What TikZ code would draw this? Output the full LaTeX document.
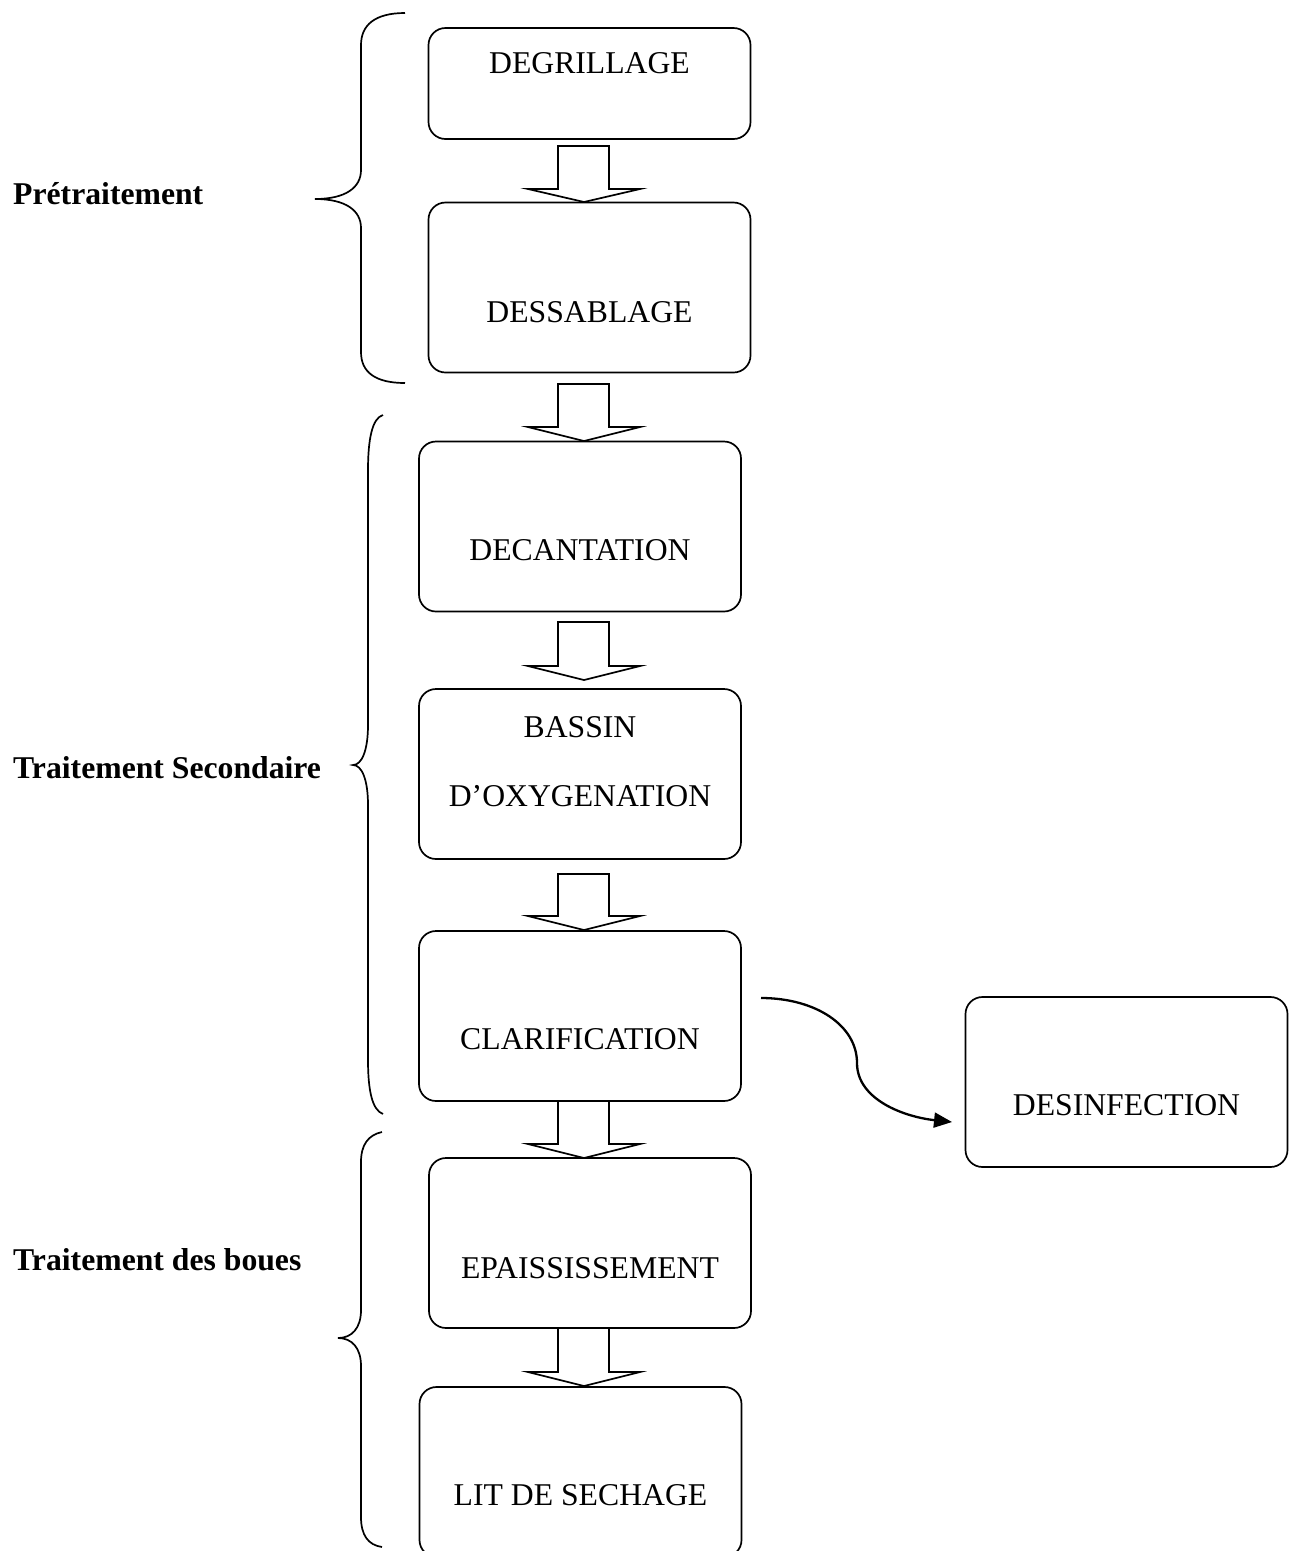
\documentclass[tikz,border=0pt]{standalone}
\usepackage{fontspec}
\setmainfont{Liberation Serif}
\usetikzlibrary{arrows.meta}
\tikzset{
  box/.style={draw, line width=1.7pt, rounded corners=17pt, minimum width=322pt, minimum height=170pt, inner sep=0pt},
  boxtxt/.style={anchor=base, inner sep=0pt, font=\fontsize{31.7}{38}\selectfont},
  sidetxt/.style={anchor=base west, inner sep=0pt, font=\fontsize{31.7}{38}\selectfont\bfseries},
  blk/.style={draw, line width=1.7pt, line join=miter, fill=white},
  brace/.style={draw, line width=1.7pt},
  flow/.style={draw, line width=2.3pt, -{Triangle[length=18pt,width=15pt]}}
}
\newcommand\blkarrow[3]{%
  \draw[blk] (558,#1) -- (609,#1) -- (609,#2) -- (640,#2) -- (584,#3) -- (528,#2) -- (558,#2) -- cycle;}
\begin{document}
\begin{tikzpicture}[x=1pt,y=-1pt]
\useasboundingbox (0,0) rectangle (1291,1551);

% boxes
\node[box, minimum height=111pt] (b1) at (589.5,83.5) {};
\node[box] (b2) at (589.5,287.5) {};
\node[box] (b3) at (580,526.5) {};
\node[box] (b4) at (580,774) {};
\node[box] (b5) at (580,1016) {};
\node[box] (b6) at (1126.5,1082) {};
\node[box] (b7) at (590,1243) {};
\node[box] (b8) at (580.5,1472) {};

% box texts
\node[boxtxt] (t1) at (589.5,73) {DEGRILLAGE};
\node[boxtxt] (t2) at (589.5,322) {DESSABLAGE};
\node[boxtxt] (t3) at (580,560) {DECANTATION};
\node[boxtxt] (t4a) at (580,737) {BASSIN};
\node[boxtxt] (t4b) at (580,806) {D’OXYGENATION};
\node[boxtxt] (t5) at (580,1049) {CLARIFICATION};
\node[boxtxt] (t6) at (1126.5,1115) {DESINFECTION};
\node[boxtxt] (t7) at (590,1278) {EPAISSISSEMENT};
\node[boxtxt] (t8) at (580.5,1505) {LIT DE SECHAGE};

% block arrows
\blkarrow{146}{189}{202}
\blkarrow{384}{427}{441}
\blkarrow{622}{666}{680}
\blkarrow{874}{916}{930}
\blkarrow{1101}{1144}{1158}
\blkarrow{1328}{1372}{1386}

% curved arrow
\coordinate (c1) at (761,998);
\coordinate (c2) at (952,1122);
\draw[flow] (c1) .. controls (815,998) and (857,1025) .. (857,1063)
   .. controls (857,1100) and (905,1117) .. (c2);

% braces
\draw[brace] (405,13) .. controls (375,13) and (361,25) .. (361,45) -- (361,170)
   .. controls (361,188) and (345,199) .. (315,199)
   .. controls (345,199) and (361,210) .. (361,228) -- (361,352)
   .. controls (361,372) and (375,383) .. (405,383);
\draw[brace] (383,415) .. controls (372,418) and (368,440) .. (368,470) -- (368,725)
   .. controls (368,750) and (362,765) .. (353,765)
   .. controls (362,765) and (368,780) .. (368,805) -- (368,1060)
   .. controls (368,1090) and (372,1110) .. (383,1114);
\draw[brace] (382,1132) .. controls (368,1135) and (361,1145) .. (361,1162) -- (361,1310)
   .. controls (361,1328) and (352,1338) .. (338,1338)
   .. controls (352,1338) and (361,1348) .. (361,1366) -- (361,1517)
   .. controls (361,1535) and (368,1545) .. (382,1547);

% side labels
\node[sidetxt] (s1) at (13,204) {Prétraitement};
\node[sidetxt] (s2) at (13,778) {Traitement Secondaire};
\node[sidetxt] (s3) at (13,1270) {Traitement des boues};
\end{tikzpicture}
\end{document}
